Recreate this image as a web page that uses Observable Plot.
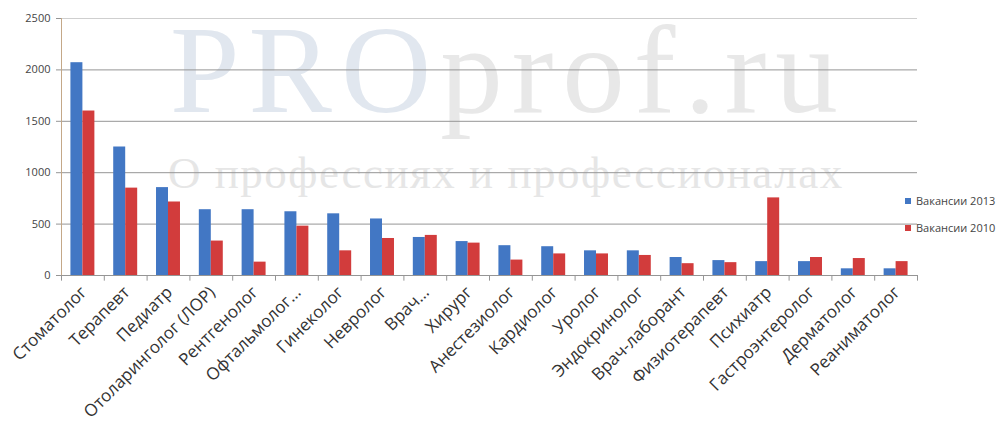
<!DOCTYPE html>
<html><head><meta charset="utf-8">
<script src="https://cdn.jsdelivr.net/npm/d3@7"></script>
<script src="https://cdn.jsdelivr.net/npm/@observablehq/plot@0.6"></script>
<style>
body{margin:0;background:#fff;font-family:"Open Sans",sans-serif}
#wrap{position:relative;width:1006px;height:423px;overflow:hidden}
#wm1{position:absolute;left:170px;top:8px;font-family:"Liberation Serif",serif;font-size:125px;color:#e8e8e8;line-height:1;white-space:nowrap;letter-spacing:9px}
#wm1 b{font-weight:normal;color:#e1e7ef}
#wm2{position:absolute;left:168px;top:151px;font-family:"Liberation Serif",serif;font-size:45px;color:#e6e6e6;line-height:1;white-space:nowrap;letter-spacing:1.5px}
#chart{position:absolute;left:0;top:0}
#legend{position:absolute;left:905px;top:187px;font-size:11px;color:#444;line-height:1}
#legend div{display:flex;align-items:center;height:27px;white-space:nowrap}
#legend span.sw{display:inline-block;width:6px;height:6px;margin-right:5px}
</style></head><body>
<div id="wrap">
<div id="wm1"><b>PRO</b>prof.ru</div>
<div id="wm2">О профессиях и профессионалах</div>
<div id="chart"></div>
<div id="legend"></div>
</div>
<script>
const categories = ["Стоматолог","Терапевт","Педиатр","Отоларинголог (ЛОР)","Рентгенолог","Офтальмолог…","Гинеколог","Невролог","Врач…","Хирург","Анестезиолог","Кардиолог","Уролог","Эндокринолог","Врач-лаборант","Физиотерапевт","Психиатр","Гастроэнтеролог","Дерматолог","Реаниматолог"];
const vac2013 = [2070,1250,855,640,640,620,600,550,370,330,290,280,240,240,175,145,135,135,65,65];
const vac2010 = [1600,850,715,335,130,480,240,360,390,315,150,210,210,195,115,125,755,175,165,135];
const seriesNames = ["Вакансии 2013","Вакансии 2010"];
const seriesColors = ["#4277c4","#d23c3c"];
const yTicks = [0,500,1000,1500,2000,2500];
const gridValues = [500,1000,1500,2000];

const W = 1006, H = 423, ML = 61, MR = 89, MT = 18, MB = 148;
const step = (W - ML - MR) / categories.length;
const bandFrac = 0.56;
const outer = step * (1 - bandFrac) / 2;
const half = step * bandFrac / 2;

const d2013 = categories.map((c,i)=>({cat:c, value:vac2013[i]}));
const d2010 = categories.map((c,i)=>({cat:c, value:vac2010[i]}));

const plot = Plot.plot({
  width: W, height: H,
  marginLeft: ML, marginRight: MR, marginTop: MT, marginBottom: MB,
  style: {fontFamily: '"Open Sans", sans-serif', color: "#333", background: "transparent"},
  x: {domain: categories, padding: 0, round: false, label: null},
  y: {domain: [0, 2500], label: null},
  marks: [
    Plot.ruleY(gridValues, {stroke: "#959595", strokeWidth: 1}),
    Plot.ruleY([2500], {stroke: "#cfcfcf", strokeWidth: 1}),
    Plot.barY(d2013, {x: "cat", y: "value", fill: seriesColors[0], insetLeft: outer, insetRight: outer + half}),
    Plot.barY(d2010, {x: "cat", y: "value", fill: seriesColors[1], insetLeft: outer + half, insetRight: outer}),
    Plot.ruleY([0], {stroke: "#959595"}),
    Plot.ruleX(categories, {x: d=>d, dx: -step/2, y1: 0, y2: -55, stroke: "#959595"}),
    Plot.ruleX([categories[categories.length-1]], {x: d=>d, dx: step/2, y1: 0, y2: -55, stroke: "#959595"}),
    Plot.ruleX([categories[0]], {x: d=>d, dx: -step/2, y1: 0, y2: 2500, stroke: "#c4a888"}),
    Plot.axisY(yTicks, {tickSize: 5, tickPadding: 6, fontSize: 11, stroke: "#959595", fill: "#444", tickFormat: d3.format("d")}),
    Plot.axisX({tickRotate: -45, tickSize: 0, tickPadding: 14, dx: 1, fontSize: 17, fill: "#333"})
  ]
});
document.getElementById("chart").appendChild(plot);

const lg = document.getElementById("legend");
seriesNames.forEach((n,i)=>{
  const row = document.createElement("div");
  row.innerHTML = `<span class="sw" style="background:${seriesColors[i]}"></span>${n}`;
  lg.appendChild(row);
});
</script>
</body></html>
